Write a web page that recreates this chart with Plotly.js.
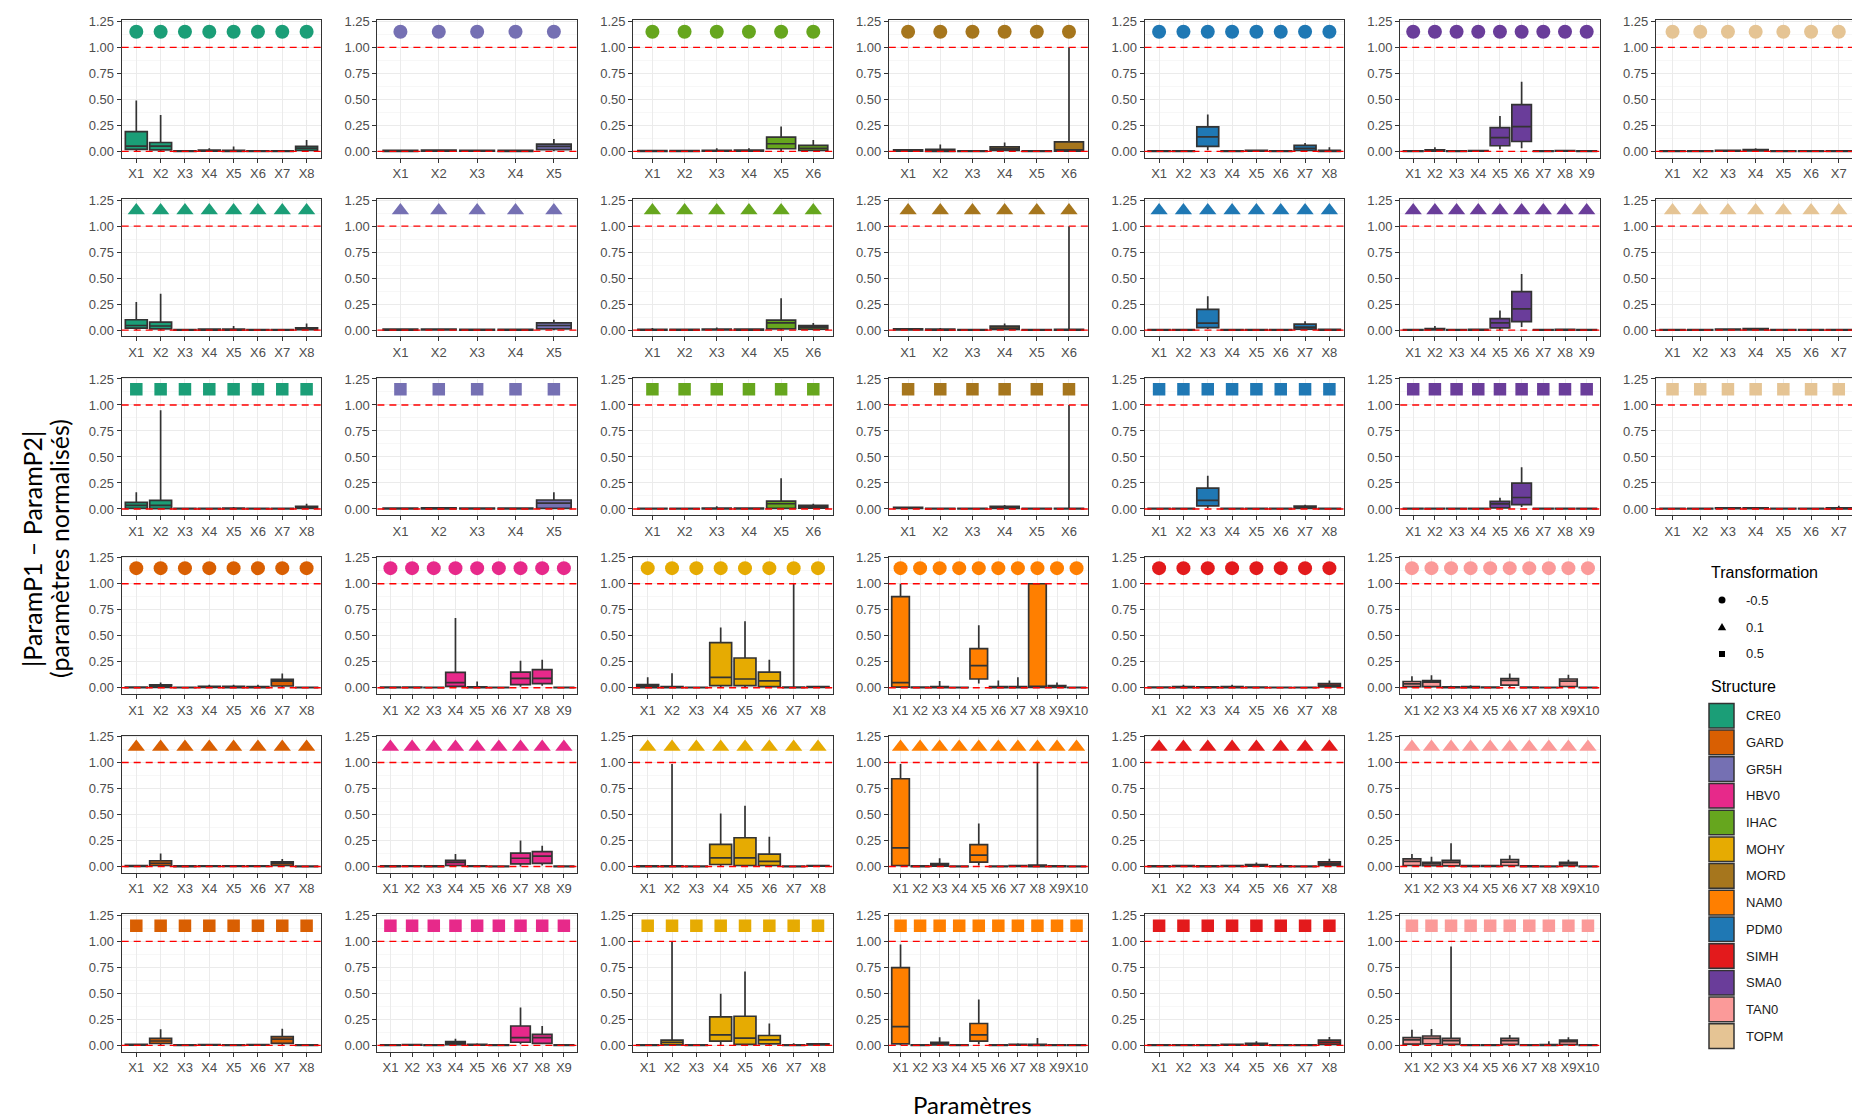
<!DOCTYPE html>
<html><head><meta charset="utf-8">
<script src="https://cdn.plot.ly/plotly-3.0.1.min.js"></script>
<style>html,body{margin:0;padding:0;background:#fff;}#chart{width:1852px;height:1118px;}</style>
</head><body><div id="chart"></div>
<script>
// ---- DATA : each parameter = [lower whisker, Q1, median, Q3, upper whisker] ----
// transformation -0.5 (suffix _a), 0.1 (_b), 0.5 (_c)
const CRE0_a = [[0,0.02,0.05,0.19,0.49],[0,0.015,0.05,0.085,0.35],[0,0,0.002,0.006,0.012],[0,0.002,0.006,0.013,0.03],[0,0,0.004,0.01,0.047],[0,0,0.002,0.006,0.012],[0,0,0.002,0.006,0.01],[0,0.01,0.03,0.047,0.11]];
const CRE0_b = [[0,0.02,0.045,0.10,0.27],[0,0.013,0.04,0.077,0.35],[0,0,0.002,0.006,0.01],[0,0.001,0.004,0.009,0.015],[0,0.001,0.004,0.01,0.04],[0,0,0.002,0.005,0.01],[0,0,0.002,0.006,0.01],[0,0.004,0.01,0.022,0.064]];
const CRE0_c = [[0,0.006,0.035,0.064,0.16],[0,0.004,0.035,0.083,0.95],[0,0,0.002,0.006,0.01],[0,0,0.002,0.006,0.01],[0,0.001,0.004,0.009,0.02],[0,0,0.002,0.005,0.01],[0,0,0.002,0.006,0.01],[0,0.005,0.015,0.025,0.05]];
const GR5H_a = [[0,0,0.003,0.009,0.016],[0,0.002,0.005,0.012,0.02],[0,0.001,0.004,0.01,0.016],[0,0,0.003,0.009,0.014],[0,0.016,0.047,0.07,0.12]];
const GR5H_b = [[0,0,0.003,0.009,0.015],[0,0.002,0.005,0.011,0.018],[0,0,0.003,0.008,0.013],[0,0,0.003,0.008,0.012],[0,0.013,0.045,0.07,0.1]];
const GR5H_c = [[0,0,0.003,0.008,0.012],[0,0.001,0.004,0.01,0.015],[0,0,0.003,0.008,0.012],[0,0,0.003,0.008,0.012],[0,0.006,0.057,0.086,0.16]];
const IHAC_a = [[0,0,0.003,0.008,0.016],[0,0,0.003,0.008,0.014],[0,0.001,0.004,0.01,0.03],[0,0.002,0.005,0.012,0.03],[0,0.025,0.073,0.136,0.24],[0,0.01,0.03,0.057,0.11]];
const IHAC_b = [[0,0,0.003,0.008,0.02],[0,0,0.002,0.007,0.012],[0,0.002,0.005,0.011,0.025],[0,0.001,0.004,0.009,0.015],[0,0.013,0.07,0.096,0.306],[0,0.01,0.03,0.045,0.07]];
const IHAC_c = [[0,0,0.002,0.006,0.01],[0,0,0.002,0.006,0.01],[0,0.001,0.004,0.009,0.025],[0,0,0.003,0.008,0.012],[0,0.005,0.05,0.076,0.296],[0,0.008,0.02,0.035,0.05]];
const MORD_a = [[0,0.003,0.007,0.014,0.02],[0,0,0.006,0.02,0.065],[0,0,0.002,0.006,0.012],[0,0.01,0.025,0.044,0.085],[0,0,0.002,0.005,0.01],[0,0.002,0.015,0.092,1.0]];
const MORD_b = [[0,0.003,0.007,0.013,0.02],[0,0,0.003,0.009,0.02],[0,0,0.002,0.006,0.01],[0,0.008,0.02,0.038,0.064],[0,0,0.002,0.005,0.01],[0,0,0.002,0.008,1.0]];
const MORD_c = [[0,0.005,0.01,0.015,0.02],[0,0,0.002,0.006,0.01],[0,0,0.002,0.006,0.01],[0,0.006,0.015,0.025,0.038],[0,0,0.002,0.006,0.01],[0,0,0.002,0.006,1.0]];
const PDM0_a = [[0,0,0.002,0.006,0.012],[0,0,0.002,0.006,0.01],[0.01,0.048,0.14,0.235,0.354],[0,0,0.002,0.006,0.01],[0,0.001,0.004,0.009,0.015],[0,0,0.002,0.006,0.01],[0,0.01,0.03,0.058,0.08],[0,0,0.004,0.01,0.04]];
const PDM0_b = [[0,0,0.002,0.006,0.01],[0,0,0.002,0.006,0.01],[0.01,0.024,0.068,0.20,0.327],[0,0,0.002,0.006,0.01],[0,0,0.002,0.006,0.01],[0,0,0.002,0.006,0.01],[0,0.01,0.03,0.058,0.085],[0,0,0.003,0.007,0.012]];
const PDM0_c = [[0,0,0.002,0.006,0.01],[0,0,0.002,0.006,0.01],[0.01,0.03,0.082,0.20,0.32],[0,0,0.002,0.006,0.01],[0,0,0.002,0.006,0.01],[0,0,0.002,0.006,0.01],[0,0.006,0.015,0.027,0.04],[0,0,0.002,0.006,0.01]];
const SMA0_a = [[0,0,0.002,0.006,0.01],[0,0.003,0.008,0.015,0.04],[0,0,0.002,0.006,0.01],[0,0.001,0.003,0.008,0.012],[0.02,0.054,0.133,0.228,0.34],[0.03,0.095,0.237,0.45,0.67],[0,0,0.002,0.006,0.01],[0,0.001,0.003,0.007,0.01],[0,0,0.002,0.006,0.01]];
const SMA0_b = [[0,0,0.002,0.006,0.01],[0,0.003,0.008,0.015,0.04],[0,0,0.002,0.006,0.01],[0,0.001,0.003,0.008,0.012],[0,0.022,0.07,0.11,0.19],[0.03,0.083,0.204,0.37,0.54],[0,0,0.002,0.006,0.01],[0,0.001,0.003,0.007,0.01],[0,0,0.002,0.006,0.01]];
const SMA0_c = [[0,0,0.002,0.006,0.01],[0,0,0.002,0.006,0.01],[0,0,0.002,0.006,0.01],[0,0,0.002,0.006,0.01],[0,0.01,0.048,0.073,0.108],[0.02,0.041,0.11,0.248,0.40],[0,0,0.002,0.006,0.01],[0,0,0.002,0.006,0.01],[0,0,0.002,0.006,0.01]];
const TOPM_a = [[0,0,0.002,0.006,0.01],[0,0,0.002,0.006,0.01],[0,0.002,0.005,0.01,0.015],[0,0.004,0.009,0.016,0.03],[0,0,0.002,0.006,0.01],[0,0,0.002,0.006,0.01],[0,0,0.002,0.006,0.012]];
const TOPM_b = [[0,0,0.002,0.006,0.01],[0,0,0.002,0.006,0.01],[0,0.002,0.005,0.01,0.015],[0,0.003,0.008,0.014,0.02],[0,0,0.002,0.006,0.01],[0,0,0.002,0.006,0.01],[0,0,0.002,0.006,0.01]];
const TOPM_c = [[0,0,0.002,0.006,0.01],[0,0,0.002,0.006,0.01],[0,0.002,0.005,0.01,0.015],[0,0.002,0.005,0.01,0.015],[0,0,0.002,0.006,0.01],[0,0,0.002,0.006,0.01],[0,0.001,0.004,0.01,0.03]];
const GARD_a = [[0,0,0.002,0.006,0.01],[0,0.004,0.015,0.028,0.05],[0,0,0.002,0.005,0.01],[0,0.003,0.008,0.014,0.03],[0,0.002,0.008,0.014,0.03],[0,0,0.005,0.01,0.03],[0,0.017,0.063,0.08,0.136],[0,0,0.002,0.005,0.01]];
const GARD_b = [[0,0.002,0.005,0.01,0.015],[0,0.01,0.032,0.056,0.126],[0,0,0.002,0.006,0.01],[0,0.001,0.004,0.008,0.012],[0,0.001,0.004,0.008,0.012],[0,0.001,0.004,0.008,0.012],[0,0.01,0.03,0.045,0.073],[0,0,0.002,0.005,0.01]];
const GARD_c = [[0,0.002,0.005,0.01,0.015],[0,0.018,0.042,0.067,0.154],[0,0,0.002,0.005,0.01],[0,0.001,0.003,0.007,0.01],[0,0,0.002,0.006,0.01],[0,0.001,0.004,0.008,0.012],[0,0.02,0.06,0.084,0.16],[0,0,0.002,0.005,0.01]];
const HBV0_a = [[0,0,0.002,0.006,0.01],[0,0,0.002,0.006,0.01],[0,0,0.002,0.005,0.01],[0,0.014,0.05,0.147,0.67],[0,0,0.003,0.008,0.06],[0,0,0.002,0.005,0.01],[0.01,0.03,0.09,0.15,0.26],[0.02,0.04,0.09,0.175,0.27],[0,0,0.002,0.005,0.01]];
const HBV0_b = [[0,0,0.002,0.006,0.01],[0,0.001,0.004,0.008,0.012],[0,0,0.002,0.006,0.01],[0,0.01,0.04,0.06,0.12],[0,0.001,0.004,0.008,0.012],[0,0,0.002,0.005,0.01],[0,0.025,0.08,0.13,0.25],[0.01,0.03,0.1,0.144,0.2],[0,0,0.002,0.005,0.01]];
const HBV0_c = [[0,0,0.002,0.006,0.01],[0,0.001,0.004,0.008,0.012],[0,0,0.002,0.005,0.01],[0,0.008,0.02,0.035,0.063],[0,0.002,0.005,0.01,0.02],[0,0,0.002,0.005,0.01],[0.01,0.03,0.074,0.186,0.365],[0.01,0.02,0.074,0.105,0.186],[0,0,0.002,0.005,0.01]];
const MOHY_a = [[0,0.002,0.015,0.03,0.1],[0,0,0.004,0.012,0.14],[0,0,0.002,0.005,0.01],[0,0.02,0.1,0.433,0.58],[0,0.02,0.084,0.286,0.64],[0,0.01,0.066,0.15,0.27],[0,0,0.002,0.006,1.0],[0,0.003,0.006,0.01,0.015]];
const MOHY_b = [[0,0,0.002,0.006,0.01],[0,0,0.003,0.008,0.987],[0,0,0.002,0.005,0.01],[0,0.02,0.084,0.214,0.51],[0,0.01,0.084,0.277,0.585],[0,0.01,0.05,0.12,0.287],[0,0,0.002,0.005,0.01],[0,0.003,0.006,0.01,0.015]];
const MOHY_c = [[0,0,0.002,0.006,0.01],[0,0.005,0.028,0.05,1.0],[0,0,0.002,0.005,0.01],[0,0.04,0.1,0.274,0.495],[0,0.01,0.07,0.28,0.71],[0,0.014,0.053,0.095,0.21],[0,0,0.002,0.006,0.02],[0,0.005,0.01,0.015,0.02]];
const NAM0_a = [[0,0.007,0.05,0.876,1.0],[0,0,0.002,0.006,0.01],[0,0,0.004,0.01,0.066],[0,0,0.002,0.005,0.01],[0.04,0.084,0.213,0.377,0.60],[0,0,0.004,0.01,0.07],[0,0.002,0.006,0.012,0.1],[0,0.003,0.01,1.0,1.0],[0,0.003,0.01,0.02,0.05],[0,0,0.002,0.005,0.01]];
const NAM0_b = [[0,0.01,0.18,0.844,0.987],[0,0,0.002,0.006,0.01],[0,0.005,0.015,0.028,0.08],[0,0,0.002,0.005,0.01],[0.01,0.042,0.11,0.21,0.413],[0,0,0.002,0.005,0.01],[0,0.002,0.005,0.009,0.015],[0,0,0.005,0.015,1.0],[0,0,0.002,0.006,0.01],[0,0,0.002,0.005,0.01]];
const NAM0_c = [[0,0.014,0.18,0.748,0.97],[0,0,0.002,0.005,0.01],[0,0.005,0.015,0.03,0.077],[0,0,0.002,0.005,0.01],[0.01,0.04,0.1,0.21,0.44],[0,0,0.002,0.005,0.01],[0,0.002,0.006,0.01,0.02],[0,0,0.004,0.01,0.07],[0,0,0.002,0.006,0.01],[0,0,0.002,0.005,0.01]];
const SIMH_a = [[0,0,0.002,0.006,0.01],[0,0.002,0.006,0.012,0.03],[0,0.001,0.004,0.009,0.015],[0,0.002,0.006,0.012,0.03],[0,0,0.002,0.006,0.01],[0,0,0.002,0.005,0.01],[0,0,0.002,0.005,0.01],[0,0.008,0.02,0.04,0.07]];
const SIMH_b = [[0,0,0.002,0.006,0.01],[0,0.002,0.005,0.01,0.015],[0,0,0.002,0.006,0.01],[0,0.002,0.005,0.01,0.015],[0,0.003,0.01,0.02,0.04],[0,0,0.003,0.008,0.03],[0,0,0.002,0.005,0.01],[0,0.01,0.025,0.045,0.075]];
const SIMH_c = [[0,0,0.002,0.006,0.01],[0,0,0.002,0.006,0.01],[0,0,0.002,0.006,0.01],[0,0.002,0.005,0.01,0.015],[0,0.003,0.01,0.02,0.04],[0,0,0.002,0.005,0.01],[0,0,0.002,0.005,0.01],[0,0.01,0.03,0.05,0.08]];
const TAN0_a = [[0,0.01,0.038,0.06,0.11],[0,0.01,0.055,0.07,0.12],[0,0,0.003,0.008,0.02],[0,0.002,0.006,0.012,0.025],[0,0,0.002,0.006,0.01],[0,0.025,0.07,0.087,0.136],[0,0,0.002,0.006,0.01],[0,0,0.002,0.005,0.01],[0,0.012,0.063,0.084,0.126],[0,0,0.002,0.005,0.01]];
const TAN0_b = [[0,0.01,0.05,0.073,0.12],[0,0.008,0.025,0.04,0.095],[0,0.006,0.04,0.06,0.224],[0,0.001,0.004,0.009,0.015],[0,0.001,0.004,0.009,0.015],[0,0.01,0.042,0.066,0.108],[0,0,0.002,0.006,0.01],[0,0,0.002,0.005,0.01],[0,0.008,0.025,0.04,0.066],[0,0,0.002,0.005,0.01]];
const TAN0_c = [[0,0.012,0.053,0.074,0.15],[0,0.015,0.067,0.09,0.158],[0,0.01,0.046,0.067,0.95],[0,0,0.002,0.006,0.01],[0,0,0.002,0.005,0.01],[0,0.01,0.046,0.067,0.1],[0,0,0.002,0.005,0.01],[0,0,0.003,0.008,0.04],[0,0.008,0.035,0.05,0.077],[0,0,0.002,0.005,0.01]];

const topStructures = ['CRE0','GR5H','IHAC','MORD','PDM0','SMA0','TOPM'];
const bottomStructures = ['GARD','HBV0','MOHY','NAM0','SIMH','TAN0'];
const legendStructures = ['CRE0','GARD','GR5H','HBV0','IHAC','MOHY','MORD','NAM0','PDM0','SIMH','SMA0','TAN0','TOPM'];
const transformations = ['-0.5','0.1','0.5'];
const structureColors = ['#1B9E77','#D95F02','#7570B3','#E7298A','#66A61E','#E6AB02','#A6761D','#FF7F00','#1F78B4','#E31A1C','#6A3D9A','#FB9A99','#E5C494'];
const markerLevel = 1.15;      // y of the symbol row
const refLevels = [0, 1];      // dashed red reference lines
const yTicks = [0, 0.25, 0.5, 0.75, 1, 1.25];
const yMinor = [0.125, 0.375, 0.625, 0.875, 1.125];

const stats = {
  CRE0:[CRE0_a,CRE0_b,CRE0_c], GR5H:[GR5H_a,GR5H_b,GR5H_c], IHAC:[IHAC_a,IHAC_b,IHAC_c],
  MORD:[MORD_a,MORD_b,MORD_c], PDM0:[PDM0_a,PDM0_b,PDM0_c], SMA0:[SMA0_a,SMA0_b,SMA0_c],
  TOPM:[TOPM_a,TOPM_b,TOPM_c], GARD:[GARD_a,GARD_b,GARD_c], HBV0:[HBV0_a,HBV0_b,HBV0_c],
  MOHY:[MOHY_a,MOHY_b,MOHY_c], NAM0:[NAM0_a,NAM0_b,NAM0_c], SIMH:[SIMH_a,SIMH_b,SIMH_c],
  TAN0:[TAN0_a,TAN0_b,TAN0_c]
};
const colorOf = {};
legendStructures.forEach((s,i)=>colorOf[s]=structureColors[i]);

// ---- LAYOUT ----
const W = 1852, H = 1118;
const colLeft0 = 121.7, colPitch = 255.7, panelW = 199.5;
const rowTop0 = 20.3, rowPitch = 178.8, panelH = 137.3;
const symbolSpec = [{symbol:'circle',size:14},{symbol:'triangle-up',size:15},{symbol:'square',size:12.5}];
const tickFont = {family:'Liberation Sans, Arial, sans-serif', size:13, color:'#4D4D4D'};

const traces = [];
const layout = {width:W, height:H, margin:{l:0,r:0,t:0,b:0}, paper_bgcolor:'#fff', plot_bgcolor:'#fff',
  showlegend:false, shapes:[], annotations:[], hovermode:false};
let n = 0;

function addPanel(struct, tIdx, row, col){
  n++;
  const xa = n===1?'x':'x'+n, ya = n===1?'y':'y'+n;
  const xk = n===1?'xaxis':'xaxis'+n, yk = n===1?'yaxis':'yaxis'+n;
  const st = stats[struct][tIdx];
  const cats = st.map((_,i)=>'X'+(i+1));
  const col_ = colorOf[struct];
  traces.push({type:'box', x:cats, lowerfence:st.map(s=>s[0]), q1:st.map(s=>s[1]), median:st.map(s=>s[2]),
    q3:st.map(s=>s[3]), upperfence:st.map(s=>s[4]), xaxis:xa, yaxis:ya, fillcolor:col_,
    line:{color:'#333333', width:1.7}, whiskerwidth:0, width:0.9, boxpoints:false, hoverinfo:'skip'});
  traces.push({type:'scatter', mode:'markers', x:cats, y:cats.map(()=>markerLevel), xaxis:xa, yaxis:ya,
    marker:{symbol:symbolSpec[tIdx].symbol, size:symbolSpec[tIdx].size, color:col_, line:{width:0}}, hoverinfo:'skip'});
  const leftPx = colLeft0 + colPitch*col;
  let x0 = leftPx/W, x1 = (leftPx+panelW)/W;
  let xr = [-0.6, cats.length-0.4];
  let clipped = false;
  if (leftPx + panelW > W){
    clipped = true;
    const unitPx = panelW/(cats.length+0.2);
    xr = [-0.6, -0.6 + (W-leftPx)/unitPx];
    x1 = 1;
  }
  const topPx = rowTop0 + rowPitch*row;
  const y1 = 1 - topPx/H, y0 = 1 - (topPx+panelH)/H;
  layout[xk] = {domain:[x0,x1], anchor:ya, type:'category', range:xr, showgrid:true, gridcolor:'#EBEBEB', gridwidth:1,
    showline:true, mirror:true, linecolor:'#333333', linewidth:1, ticks:'outside', ticklen:4, tickwidth:1,
    tickcolor:'#333333', tickfont:tickFont, tickangle:0, zeroline:false, fixedrange:true};
  layout[yk] = {domain:[y0,y1], anchor:xa, range:[-0.06,1.26], tickmode:'array', tickvals:yTicks, tickformat:'.2f',
    showgrid:true, gridcolor:'#EBEBEB', gridwidth:1,
    minor:{tickvals:yMinor, showgrid:true, gridcolor:'#F5F5F5', gridwidth:0.8, ticks:''},
    showline:true, mirror:!clipped, linecolor:'#333333', linewidth:1, ticks:'outside', ticklen:4, tickwidth:1,
    tickcolor:'#333333', tickfont:tickFont, zeroline:false, fixedrange:true};
  refLevels.forEach(v=>{
    layout.shapes.push({type:'line', xref:xa+' domain', x0:0, x1:1, yref:ya, y0:v, y1:v,
      line:{color:'#FF0000', width:1.4, dash:'7px,5px'}, layer:'above'});
  });
}

for (let t=0;t<3;t++){
  topStructures.forEach((s,c)=>addPanel(s,t,t,c));
}
for (let t=0;t<3;t++){
  bottomStructures.forEach((s,c)=>addPanel(s,t,t+3,c));
}

// ---- axis titles ----
const px = v=>v/W, py = v=>1-v/H;
const titleFont = {family:'Lato, Open Sans, sans-serif', size:24, color:'#000'};
layout.annotations.push({text:'Paramètres', xref:'paper', yref:'paper', x:px(972), y:py(1104), xanchor:'center', yanchor:'middle', showarrow:false, font:titleFont});
layout.annotations.push({text:'|ParamP1 – ParamP2|', xref:'paper', yref:'paper', x:px(32), y:py(549), xanchor:'center', yanchor:'middle', textangle:-90, showarrow:false, font:{family:titleFont.family, size:25, color:'#000'}});
layout.annotations.push({text:'(paramètres normalisés)', xref:'paper', yref:'paper', x:px(59), y:py(549), xanchor:'center', yanchor:'middle', textangle:-90, showarrow:false, font:{family:titleFont.family, size:25, color:'#000'}});

// ---- legend (drawn manually) ----
const legFont = {family:'Liberation Sans, Arial, sans-serif', size:13, color:'#1A1A1A'};
const legTitleFont = {family:'Liberation Sans, Arial, sans-serif', size:16, color:'#000'};
const legX = 1709, symX = 1722, labX = 1744;
layout.annotations.push({text:'Transformation', xref:'paper', yref:'paper', x:px(legX), y:py(572), xanchor:'left', yanchor:'middle', showarrow:false, font:legTitleFont});
const symY = [600, 627, 654];
transformations.forEach((t,i)=>{
  layout.annotations.push({text:t, xref:'paper', yref:'paper', x:px(labX), y:py(symY[i]), xanchor:'left', yanchor:'middle', showarrow:false, font:legFont});
});
layout.shapes.push({type:'circle', xref:'paper', yref:'paper', x0:px(symX-3.5), x1:px(symX+3.5), y0:py(symY[0]+3.5), y1:py(symY[0]-3.5), fillcolor:'#000', line:{width:0}});
layout.shapes.push({type:'path', xref:'paper', yref:'paper', path:`M ${px(symX-4.2)} ${py(symY[1]+3.3)} L ${px(symX+4.2)} ${py(symY[1]+3.3)} L ${px(symX)} ${py(symY[1]-4)} Z`, fillcolor:'#000', line:{width:0}});
layout.shapes.push({type:'rect', xref:'paper', yref:'paper', x0:px(symX-3), x1:px(symX+3), y0:py(symY[2]+3), y1:py(symY[2]-3), fillcolor:'#000', line:{width:0}});
layout.annotations.push({text:'Structure', xref:'paper', yref:'paper', x:px(legX), y:py(686), xanchor:'left', yanchor:'middle', showarrow:false, font:legTitleFont});
legendStructures.forEach((s,i)=>{
  const cy = 715.7 + 26.7*i;
  layout.shapes.push({type:'rect', xref:'paper', yref:'paper', x0:px(legX), x1:px(legX+25), y0:py(cy+12.3), y1:py(cy-12.3), fillcolor:colorOf[s], line:{color:'#333333', width:1.5}});
  layout.annotations.push({text:s, xref:'paper', yref:'paper', x:px(labX), y:py(cy), xanchor:'left', yanchor:'middle', showarrow:false, font:legFont});
});

Plotly.newPlot('chart', traces, layout, {staticPlot:true, displayModeBar:false});
</script></body></html>
